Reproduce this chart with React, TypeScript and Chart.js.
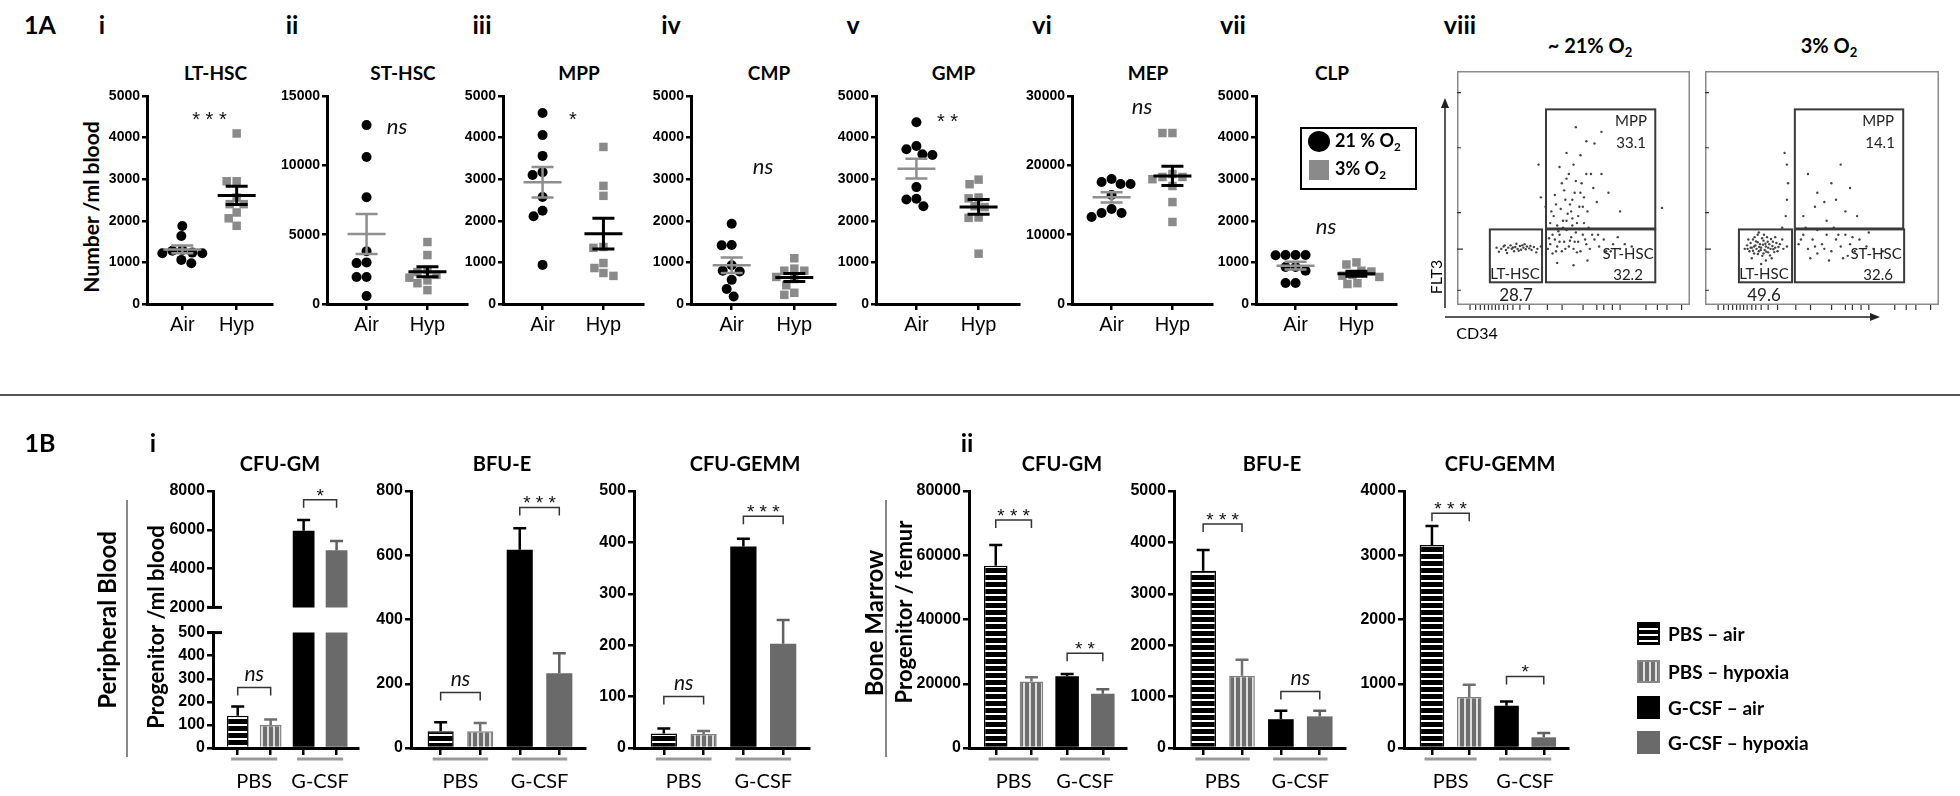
import React, { useEffect, useRef } from 'react';
import { Chart, registerables } from 'chart.js';
Chart.register(...registerables);

const TXT = "Lato, 'Noto Sans', sans-serif";
const NUM = "'Liberation Sans', Arial, sans-serif";

// ================= Fig 1A: number per ml blood =================
const groupLabels = ['Air', 'Hyp'];
const panelTitles = ['LT-HSC', 'ST-HSC', 'MPP', 'CMP', 'GMP', 'MEP', 'CLP'];
const panelNumerals = ['i', 'ii', 'iii', 'iv', 'v', 'vi', 'vii'];
const ltAir = [1875, 1635, 1300, 1280, 1235, 1220, 1220, 1060, 980];
const ltHyp = [4100, 2950, 2950, 2560, 2400, 2400, 2200, 2060, 1880];
const stAir = [12900, 10600, 7700, 3800, 3000, 2950, 1950, 1950, 580];
const stHyp = [4470, 3530, 2450, 2300, 2100, 1900, 1700, 1500, 1000];
const mppAir = [4590, 4060, 3560, 3170, 3100, 2570, 2240, 2110, 940];
const mppHyp = [3775, 2840, 2600, 1370, 1350, 985, 865, 745, 675];
const cmpAir = [1930, 1420, 1410, 930, 800, 780, 580, 360, 180];
const cmpHyp = [1100, 850, 800, 800, 650, 600, 450, 270, 220];
const gmpAir = [4370, 3800, 3720, 3600, 3580, 2810, 2530, 2510, 2350];
const gmpHyp = [2990, 2880, 2560, 2540, 2350, 2330, 2080, 2070, 1210];
const mepAir = [18030, 17600, 17300, 17300, 15720, 13700, 13125, 13125, 12550];
const mepHyp = [24660, 24660, 18750, 18320, 18320, 18000, 17020, 14700, 11830];
const clpAir = [1180, 1180, 1180, 1170, 890, 890, 800, 505, 505];
const clpHyp = [1000, 950, 800, 780, 700, 680, 650, 500, 480];
const axisMax = [5000, 15000, 5000, 5000, 5000, 30000, 5000];
const axisStep = [1000, 5000, 1000, 1000, 1000, 10000, 1000];
const sigLabels = ['***', 'ns', '*', 'ns', '**', 'ns', 'ns'];
const sigAt = [4550, 12700, 4550, 3270, 4500, 28300, 1830];
const topAir = [ltAir, stAir, mppAir, cmpAir, gmpAir, mepAir, clpAir];
const topHyp = [ltHyp, stHyp, mppHyp, cmpHyp, gmpHyp, mepHyp, clpHyp];

// flow cytometry (viii): FLT3 vs CD34, plot units 0-1000
const gateNames = ['LT-HSC', 'ST-HSC', 'MPP'];
const gatePct21 = ['28.7', '32.2', '33.1'];
const gatePct3 = ['49.6', '32.6', '14.1'];
const gates21 = [[141, 97, 365, 323], [382, 97, 851, 323], [382, 327, 851, 836]];
const gates3 = [[145, 97, 372, 323], [384, 97, 851, 323], [384, 327, 847, 836]];
const cells21: number[][] = [
  [170, 245], [190, 240], [200, 250], [210, 235], [220, 245], [230, 255], [235, 240], [245, 230], [250, 248], [260, 240],
  [270, 252], [275, 236], [285, 245], [295, 238], [300, 250], [310, 242], [320, 235], [330, 248], [345, 240], [360, 250],
  [180, 228], [255, 262], [215, 222], [290, 260], [340, 225], [205, 255], [240, 246], [265, 232], [280, 255], [315, 252],
  [390, 240], [400, 260], [410, 220], [420, 280], [430, 250], [440, 300], [450, 230], [460, 270], [470, 320], [480, 250],
  [490, 290], [500, 240], [510, 310], [520, 270], [530, 230], [540, 300], [555, 260], [570, 240], [590, 280], [610, 250],
  [640, 230], [670, 260], [700, 240], [400, 350], [415, 380], [430, 340], [445, 410], [455, 360], [465, 450], [475, 390],
  [485, 430], [495, 370], [505, 480], [515, 350], [525, 420], [535, 520], [545, 460], [560, 400], [575, 560], [585, 500],
  [600, 440], [420, 470], [450, 520], [480, 560], [500, 600], [530, 640], [555, 700], [590, 690], [620, 740], [510, 760],
  [470, 650], [440, 590], [620, 560], [650, 480], [700, 400], [380, 420], [360, 460], [350, 600], [880, 415], [430, 180],
  [500, 170], [560, 190], [410, 300], [455, 330], [495, 340], [520, 380], [470, 360], [440, 270], [505, 270], [545, 350],
  [395, 285], [425, 230], [435, 315], [465, 240], [485, 275], [515, 225], [525, 325], [550, 280], [565, 330], [580, 300],
  [405, 400], [425, 430], [460, 490], [490, 400], [510, 530], [540, 420], [555, 560], [470, 540], [495, 450], [530, 480],
  [605, 300], [630, 280], [660, 230], [690, 290], [720, 260], [750, 250],
];
const cells3: number[][] = [
  [170, 240], [180, 255], [190, 230], [195, 265], [200, 245], [205, 280], [210, 220], [215, 255], [220, 240], [225, 300],
  [230, 230], [235, 260], [240, 245], [245, 210], [250, 275], [255, 235], [260, 250], [265, 290], [270, 225], [275, 260],
  [280, 240], [285, 200], [290, 270], [300, 245], [310, 230], [320, 260], [335, 240], [350, 250], [200, 200], [230, 310],
  [260, 190], [300, 290], [185, 280], [240, 175], [330, 280], [210, 250], [250, 220], [225, 268], [270, 245], [195, 245],
  [205, 232], [218, 272], [232, 248], [244, 285], [258, 262], [262, 228], [278, 212], [288, 252], [296, 226], [305, 265],
  [182, 240], [226, 218], [248, 258], [268, 270], [292, 238], [314, 248], [238, 235], [252, 300], [212, 290], [282, 282],
  [400, 260], [420, 300], [440, 240], [460, 280], [480, 320], [500, 260], [520, 300], [540, 230], [560, 280], [580, 250],
  [600, 300], [620, 260], [640, 230], [660, 280], [690, 250], [720, 240], [760, 230], [450, 200], [530, 190], [610, 210],
  [430, 330], [550, 330], [480, 220], [700, 310], [590, 200], [410, 280], [470, 250], [510, 240], [570, 300], [630, 290],
  [420, 380], [470, 420], [520, 360], [560, 450], [600, 400], [480, 480], [540, 520], [620, 500], [650, 380], [580, 600],
  [510, 440], [440, 560], [345, 380], [350, 450], [355, 520], [350, 600], [340, 650], [330, 330],
];
const flowYTicks = [63, 239, 395, 672, 908];
const flowXTicks = [56, 80, 100, 118, 135, 150, 165, 180, 200, 217, 240, 270, 310, 388, 451, 541, 600, 630, 667, 700, 811, 860, 901, 964];

// ================= Fig 1B: colony-forming progenitors =================
const barGroups = ['PBS', 'G-CSF'];
const barSeries = ['PBS – air', 'PBS – hypoxia', 'G-CSF – air', 'G-CSF – hypoxia'];
const pbCfuGm = [140, 100, 5950, 4950];
const pbCfuGmSem = [40, 23, 550, 470];
const pbCfuGmSig: [string, number][] = [['ns', 262], ['*', 7550]];
const pbBfuE = [52, 52, 617, 233];
const pbBfuESem = [28, 26, 67, 62];
const pbBfuESig: [string, number][] = [['ns', 173], ['***', 749]];
const pbCfuGemm = [28, 27, 392, 203];
const pbCfuGemmSem = [10, 6, 15, 46];
const pbCfuGemmSig: [string, number][] = [['ns', 100], ['***', 451]];
const bmCfuGm = [56700, 20700, 22300, 16900];
const bmCfuGmSem = [6500, 1300, 700, 1400];
const bmCfuGmSig: [string, number][] = [['***', 71000], ['**', 29500]];
const bmBfuE = [3450, 1405, 560, 615];
const bmBfuESem = [400, 310, 165, 110];
const bmBfuESig: [string, number][] = [['***', 4360], ['ns', 1100]];
const bmCfuGemm = [3160, 793, 658, 166];
const bmCfuGemmSem = [296, 190, 67, 67];
const bmCfuGemmSig: [string, number][] = [['***', 3653], ['*', 1114]];

// ================= layout =================
const TOP_Y = 96, TOP_B = 304;
const topAxisX = [147, 327, 503, 691, 876, 1072, 1256];
const topPlotW = [125, 140, 140, 144, 143, 140, 140];
const numeralX = [102, 292, 482, 671, 853, 1042, 1233];
const Y_W = 60, PAD_T = 24, X_H = 42, PAD_R = 12;
const flowBox = [[1453, 67, 241, 238], [1701, 67, 242, 238]];
const flowLabelPos = [
  [[249, 130, 253, 42], [734, 218, 734, 126], [747, 786, 747, 693]],
  [[252, 130, 252, 42], [731, 218, 740, 126], [740, 786, 748, 693]],
];
const BAR_T = 491, BAR_B = 748, BY_W = 70;

const axisBorder = { display: true, color: '#000', width: 3 };
const tickGrid = (len: number) => ({ display: true, drawOnChartArea: false, drawTicks: true, tickLength: len, color: '#000', lineWidth: 2.5, offset: false });
const plainNum = (v: any) => String(v);

function swarm(values: number[], center: number, pxPerX: number, pxPerV: number, d: number) {
  const order = values.map((_, i) => i).sort((a, b) => values[b] - values[a]);
  const placed: { x: number; y: number }[] = [];
  const out: { x: number; y: number }[] = new Array(values.length);
  for (const i of order) {
    const py = values[i] * pxPerV;
    let off = 0;
    for (let k = 0; k < 400; k++) {
      const cand = k === 0 ? 0 : (k % 2 ? -1 : 1) * Math.ceil(k / 2);
      if (placed.every(p => Math.hypot(p.x - cand, p.y - py) >= d)) { off = cand; break; }
    }
    placed.push({ x: off, y: py });
    out[i] = { x: center + off / pxPerX, y: values[i] };
  }
  return out;
}

function meanSem(a: number[]) {
  const m = a.reduce((s, v) => s + v, 0) / a.length;
  const sd = Math.sqrt(a.reduce((s, v) => s + (v - m) ** 2, 0) / (a.length - 1));
  return [m, sd / Math.sqrt(a.length)];
}

function drawSig(ctx: CanvasRenderingContext2D, lab: string, cx: number, cy: number, size: number) {
  ctx.fillStyle = '#111';
  ctx.textAlign = 'center';
  ctx.textBaseline = 'alphabetic';
  if (lab === 'ns') {
    ctx.font = `italic ${size + 2}px ${TXT}`;
    ctx.fillText(lab, cx, cy + (size + 2) * 0.26);
  } else {
    ctx.font = `${size}px ${NUM}`;
    ctx.fillText(lab.split('').join(' '), cx, cy + size * 0.58);
  }
}

function buildTop(canvas: HTMLCanvasElement, k: number) {
  const plotH = TOP_B - TOP_Y;
  const w = topPlotW[k];
  const pxX = w / 2.3, pxV = plotH / axisMax[k];
  const air = swarm(topAir[k], 1, pxX, pxV, 10);
  const hyp = swarm(topHyp[k], 2, pxX, pxV, 9.5);
  const groups: [number[], number, string, number][] = [[topAir[k], 1, '#8f8f8f', 2.5], [topHyp[k], 2, '#000', 3]];
  const plugin = {
    id: 'meanSem' + k,
    afterDatasetsDraw(chart: any) {
      const { ctx, scales: { x, y } } = chart;
      ctx.save();
      for (const [vals, c, col, lw] of groups) {
        const [m, se] = meanSem(vals);
        const cx = x.getPixelForValue(c);
        const ym = y.getPixelForValue(m), yh = y.getPixelForValue(m + se), yl = y.getPixelForValue(m - se);
        ctx.strokeStyle = col; ctx.lineWidth = lw;
        ctx.beginPath();
        ctx.moveTo(cx - 19, ym); ctx.lineTo(cx + 19, ym);
        ctx.moveTo(cx, yl); ctx.lineTo(cx, yh);
        ctx.moveTo(cx - 11, yh); ctx.lineTo(cx + 11, yh);
        ctx.moveTo(cx - 11, yl); ctx.lineTo(cx + 11, yl);
        ctx.stroke();
      }
      drawSig(ctx, sigLabels[k], x.getPixelForValue(1.5), y.getPixelForValue(sigAt[k]), 20);
      ctx.restore();
    },
  };
  return new Chart(canvas, {
    type: 'scatter',
    data: {
      datasets: [
        { data: air, pointStyle: 'circle', pointRadius: 5, backgroundColor: '#000', borderWidth: 0 },
        { data: hyp, pointStyle: 'rect', pointRadius: 6, backgroundColor: '#8a8a8a', borderWidth: 0 },
      ],
    },
    options: {
      responsive: false, animation: false, devicePixelRatio: 1,
      layout: { padding: { top: PAD_T, right: PAD_R, left: 0, bottom: 0 } },
      plugins: { legend: { display: false }, tooltip: { enabled: false } },
      scales: {
        x: {
          type: 'linear', min: 0.35, max: 2.65,
          afterBuildTicks: (s: any) => { s.ticks = [{ value: 1 }, { value: 2 }]; },
          ticks: { callback: (_v: any, i: number) => groupLabels[i], font: { family: NUM, size: 20 }, color: '#000', padding: 3, autoSkip: false, maxRotation: 0 },
          grid: tickGrid(6), border: axisBorder,
          afterFit: (s: any) => { s.height = X_H; },
        },
        y: {
          min: 0, max: axisMax[k],
          ticks: { stepSize: axisStep[k], callback: plainNum, font: { family: NUM, size: 14, weight: 'bold' }, color: '#000', padding: 2 },
          grid: tickGrid(5), border: axisBorder,
          afterFit: (s: any) => { s.width = Y_W; },
        },
      },
    } as any,
    plugins: [plugin],
  });
}

function buildFlow(canvas: HTMLCanvasElement, p: number) {
  const cells = p === 0 ? cells21 : cells3;
  const gates = p === 0 ? gates21 : gates3;
  const pcts = p === 0 ? gatePct21 : gatePct3;
  const plugin = {
    id: 'flow' + p,
    afterDatasetsDraw(chart: any) {
      const { ctx, chartArea: a, scales: { x, y } } = chart;
      ctx.save();
      ctx.strokeStyle = '#8a8a8a'; ctx.lineWidth = 1.5;
      ctx.strokeRect(a.left + 0.75, a.top + 0.75, a.right - a.left - 1.5, a.bottom - a.top - 1.5);
      ctx.strokeStyle = '#333'; ctx.lineWidth = 1.2;
      ctx.beginPath();
      flowYTicks.forEach((v, i) => { const py = y.getPixelForValue(v); ctx.moveTo(a.left, py); ctx.lineTo(a.left + (i === 1 ? 6 : 4), py); });
      flowXTicks.forEach(v => { const px = x.getPixelForValue(v); ctx.moveTo(px, a.bottom); ctx.lineTo(px, a.bottom + 5); });
      ctx.stroke();
      ctx.strokeStyle = '#3a3a3a'; ctx.lineWidth = 2;
      gates.forEach(g => {
        const x1 = x.getPixelForValue(g[0]), x2 = x.getPixelForValue(g[2]);
        const y1 = y.getPixelForValue(g[1]), y2 = y.getPixelForValue(g[3]);
        ctx.strokeRect(x1, y2, x2 - x1, y1 - y2);
      });
      ctx.fillStyle = '#222'; ctx.textAlign = 'center'; ctx.textBaseline = 'middle';
      gates.forEach((_g, i) => {
        const [nx, ny, vx, vy] = flowLabelPos[p][i];
        ctx.font = `15px ${TXT}`;
        ctx.fillText(gateNames[i], x.getPixelForValue(nx), y.getPixelForValue(ny));
        ctx.font = `${i === 0 ? 17 : 15}px ${TXT}`;
        ctx.fillText(pcts[i], x.getPixelForValue(vx), y.getPixelForValue(vy));
      });
      ctx.restore();
    },
  };
  return new Chart(canvas, {
    type: 'scatter',
    data: { datasets: [{ data: cells.map(c => ({ x: c[0], y: c[1] })), pointRadius: 1.2, backgroundColor: '#444', borderWidth: 0 }] },
    options: {
      responsive: false, animation: false, devicePixelRatio: 1,
      layout: { padding: { top: 0, right: 0, left: 0, bottom: 10 } },
      plugins: { legend: { display: false }, tooltip: { enabled: false } },
      scales: { x: { display: false, min: 0, max: 1000 }, y: { display: false, min: 0, max: 1000 } },
    } as any,
    plugins: [plugin],
  });
}

type Seg = { min: number; max: number; step: number; showX: boolean; brk?: 'min' | 'max' };

function stripePattern(ctx: CanvasRenderingContext2D, horizontal: boolean, fg: string, bg: string, period: number, fgSize: number) {
  const c = document.createElement('canvas');
  c.width = horizontal ? 4 : period; c.height = horizontal ? period : 4;
  const g = c.getContext('2d')!;
  g.fillStyle = bg; g.fillRect(0, 0, c.width, c.height);
  g.fillStyle = fg;
  if (horizontal) g.fillRect(0, 0, 4, fgSize); else g.fillRect(0, 0, fgSize, 4);
  return ctx.createPattern(c, 'repeat')!;
}

function buildBars(canvas: HTMLCanvasElement, vals: number[], sems: number[], sig: [string, number][], seg: Seg, padT: number, padB: number) {
  const ctx0 = canvas.getContext('2d')!;
  const fills = [stripePattern(ctx0, true, '#000', '#fff', 7, 5), stripePattern(ctx0, false, '#6e6e6e', '#dedede', 6, 4), '#000', '#6a6a6a'];
  const errCols = ['#000', '#707070', '#000', '#606060'];
  const plugin = {
    id: 'barDeco',
    afterDatasetsDraw(chart: any) {
      const { ctx, chartArea: a, scales: { x, y } } = chart;
      ctx.save();
      ctx.lineWidth = 2.5;
      vals.forEach((v, i) => {
        if (v < seg.min || v > seg.max) return;
        const cx = x.getPixelForValue(i + 1), y0 = y.getPixelForValue(v), y1 = y.getPixelForValue(v + sems[i]);
        ctx.strokeStyle = errCols[i];
        ctx.beginPath(); ctx.moveTo(cx, y0); ctx.lineTo(cx, y1); ctx.moveTo(cx - 6.5, y1); ctx.lineTo(cx + 6.5, y1); ctx.stroke();
      });
      if (seg.brk) {
        const by = seg.brk === 'min' ? a.bottom : a.top;
        ctx.strokeStyle = '#000'; ctx.lineWidth = 3;
        ctx.beginPath(); ctx.moveTo(a.left - 6, by); ctx.lineTo(a.left + 9, by); ctx.stroke();
      }
      sig.forEach(([lab, yv], p) => {
        if (yv < seg.min || yv > seg.max) return;
        const x1 = x.getPixelForValue(1 + 2 * p), x2 = x.getPixelForValue(2 + 2 * p), py = y.getPixelForValue(yv);
        ctx.strokeStyle = '#333'; ctx.lineWidth = 1.5;
        ctx.beginPath(); ctx.moveTo(x1, py + 8); ctx.lineTo(x1, py); ctx.lineTo(x2, py); ctx.lineTo(x2, py + 8); ctx.stroke();
        drawSig(ctx, lab, (x1 + x2) / 2, py - (lab === 'ns' ? 12 : 9), 19);
      });
      if (seg.showX) {
        ctx.strokeStyle = '#9a9a9a'; ctx.lineWidth = 3;
        const ly = a.bottom + 11;
        ctx.beginPath();
        [0, 1].forEach(g => { ctx.moveTo(x.getPixelForValue(0.8 + 2 * g), ly); ctx.lineTo(x.getPixelForValue(2.2 + 2 * g), ly); });
        ctx.stroke();
        ctx.fillStyle = '#000'; ctx.font = `20px ${TXT}`; ctx.textAlign = 'center'; ctx.textBaseline = 'middle';
        barGroups.forEach((g, i) => ctx.fillText(g, x.getPixelForValue(1.5 + 2 * i), a.bottom + 34));
      }
      ctx.restore();
    },
  };
  return new Chart(canvas, {
    type: 'bar',
    data: {
      datasets: [{
        label: 'bars',
        data: vals.map((v, i) => ({ x: i + 1, y: v })),
        backgroundColor: fills as any,
        borderColor: ['#000', '#808080', '#000', '#6a6a6a'],
        borderWidth: [1.5, 1.5, 0, 0],
        borderSkipped: 'start',
        barPercentage: 0.66, categoryPercentage: 1,
        clip: 0,
      }],
    },
    options: {
      responsive: false, animation: false, devicePixelRatio: 1,
      layout: { padding: { top: padT, right: 14, left: 0, bottom: seg.showX ? 0 : padB } },
      plugins: { legend: { display: false }, tooltip: { enabled: false } },
      scales: {
        x: {
          type: 'linear', display: seg.showX, min: 0.25, max: 4.65, offset: false,
          afterBuildTicks: (s: any) => { s.ticks = [1, 2, 3, 4].map(v => ({ value: v })); },
          ticks: { callback: () => '', autoSkip: false, maxRotation: 0, padding: 0 },
          grid: tickGrid(7), border: axisBorder,
          afterFit: (s: any) => { s.height = seg.showX ? 48 : 0; },
        },
        y: {
          min: seg.min, max: seg.max,
          ticks: { stepSize: seg.step, callback: plainNum, font: { family: NUM, size: 16, weight: 'bold' }, color: '#000', padding: 2 },
          grid: tickGrid(6), border: axisBorder,
          afterFit: (s: any) => { s.width = BY_W; },
        },
      },
    } as any,
    plugins: [plugin],
  });
}

function Box({ left, top, width, height, make }: { left: number; top: number; width: number; height: number; make: (c: HTMLCanvasElement) => Chart }) {
  const ref = useRef<HTMLCanvasElement>(null);
  useEffect(() => {
    const ch = make(ref.current!);
    return () => ch.destroy();
  }, []);
  return <canvas ref={ref} width={width} height={height} style={{ position: 'absolute', left, top, width, height }} />;
}

function T({ x, y, children, size = 20, bold = false, italic = false, rot = false, left = false }: any) {
  return (
    <div style={{
      position: 'absolute', left: x, top: y, whiteSpace: 'nowrap', lineHeight: 1, color: '#000',
      fontFamily: TXT, fontSize: size, fontWeight: bold ? 700 : 400, fontStyle: italic ? 'italic' : 'normal',
      transform: `translate(${left ? '0' : '-50%'},-50%)${rot ? ' rotate(-90deg)' : ''}`,
    }}>{children}</div>
  );
}

const O2 = (t: string) => <span>{t}O<sub style={{ fontSize: '0.65em', verticalAlign: '-0.3em' }}>2</sub></span>;

type BarPanel = { title: string; axisX: number; w: number; titleX: number; vals: number[]; sems: number[]; sig: [string, number][]; max: number; step: number };
const barPanels: BarPanel[] = [
  { title: 'BFU-E', axisX: 411, w: 174, titleX: 502, vals: pbBfuE, sems: pbBfuESem, sig: pbBfuESig, max: 800, step: 200 },
  { title: 'CFU-GEMM', axisX: 634, w: 175, titleX: 745, vals: pbCfuGemm, sems: pbCfuGemmSem, sig: pbCfuGemmSig, max: 500, step: 100 },
  { title: 'CFU-GM', axisX: 969, w: 157, titleX: 1062, vals: bmCfuGm, sems: bmCfuGmSem, sig: bmCfuGmSig, max: 80000, step: 20000 },
  { title: 'BFU-E', axisX: 1174, w: 171, titleX: 1272, vals: bmBfuE, sems: bmBfuESem, sig: bmBfuESig, max: 5000, step: 1000 },
  { title: 'CFU-GEMM', axisX: 1404, w: 164, titleX: 1500, vals: bmCfuGemm, sems: bmCfuGemmSem, sig: bmCfuGemmSig, max: 4000, step: 1000 },
];

export default function App() {
  const legendPatches = [
    { background: 'repeating-linear-gradient(to bottom, #000 0 4px, #fff 4px 6px)', border: '2px solid #000' },
    { background: 'repeating-linear-gradient(to right, #707070 0 4px, #e2e2e2 4px 6px)', border: '2px solid #888' },
    { background: '#000', border: '2px solid #000' },
    { background: '#6a6a6a', border: '2px solid #6a6a6a' },
  ];
  const legendY = [633, 671, 707, 742];
  return (
    <div style={{ position: 'absolute', left: 0, top: 0, width: 1960, height: 796, background: '#fff', overflow: 'hidden' }}>
      {/* ---------- 1A ---------- */}
      <T x={40} y={24} size={25} bold>1A</T>
      {panelNumerals.map((n, k) => <T key={n} x={numeralX[k]} y={24} size={25} bold>{n}</T>)}
      <T x={1460} y={24} size={25} bold>viii</T>
      {panelTitles.map((t, k) => <T key={t} x={topAxisX[k] + topPlotW[k] / 2 + 6} y={72} size={19} bold>{t}</T>)}
      <T x={90} y={207} size={21} bold rot>Number /ml blood</T>
      {panelTitles.map((t, k) => (
        <Box key={'top' + t} left={topAxisX[k] - Y_W} top={TOP_Y - PAD_T} width={Y_W + topPlotW[k] + PAD_R} height={PAD_T + (TOP_B - TOP_Y) + X_H} make={c => buildTop(c, k)} />
      ))}
      {/* legend 1A */}
      <div style={{ position: 'absolute', left: 1300, top: 127, width: 113, height: 59, border: '2px solid #000' }} />
      <div style={{ position: 'absolute', left: 1308, top: 131, width: 22, height: 21, borderRadius: '50%', background: '#000' }} />
      <div style={{ position: 'absolute', left: 1309, top: 160, width: 20, height: 20, background: '#8a8a8a' }} />
      <T x={1335} y={142} size={18} bold left>{O2('21 % ')}</T>
      <T x={1335} y={170} size={18} bold left>{O2('3% ')}</T>
      {/* flow plots */}
      <T x={1590} y={47} size={20} bold>{O2('~ 21% ')}</T>
      <T x={1829} y={47} size={20} bold>{O2('3% ')}</T>
      {flowBox.map((b, p) => (
        <Box key={'flow' + p} left={b[0]} top={b[1]} width={b[2]} height={b[3] + 10} make={c => buildFlow(c, p)} />
      ))}
      <svg width={1960} height={796} style={{ position: 'absolute', left: 0, top: 0, pointerEvents: 'none' }}>
        <line x1={1445} y1={308} x2={1445} y2={106} stroke="#222" strokeWidth={1.5} />
        <polygon points="1445,98 1441,108 1449,108" fill="#222" />
        <line x1={1445} y1={317} x2={1872} y2={317} stroke="#222" strokeWidth={1.5} />
        <polygon points="1880,317 1870,313 1870,321" fill="#222" />
      </svg>
      <T x={1436} y={277} size={16} rot>FLT3</T>
      <T x={1477} y={333} size={16}>CD34</T>

      <div style={{ position: 'absolute', left: 0, top: 394, width: 1960, height: 2, background: '#555' }} />

      {/* ---------- 1B ---------- */}
      <T x={40} y={442} size={25} bold>1B</T>
      <T x={153} y={442} size={25} bold>i</T>
      <T x={967} y={442} size={25} bold>ii</T>
      <T x={107} y={620} size={24} bold rot>Peripheral Blood</T>
      <div style={{ position: 'absolute', left: 126, top: 500, width: 2, height: 257, background: '#888' }} />
      <T x={156} y={627} size={22} bold rot>Progenitor /ml blood</T>
      <T x={874} y={623} size={24} bold rot>Bone Marrow</T>
      <div style={{ position: 'absolute', left: 885, top: 500, width: 2, height: 257, background: '#888' }} />
      <T x={904} y={612} size={22} bold rot>Progenitor / femur</T>

      {/* PB CFU-GM with broken axis */}
      <T x={280} y={463} size={20} bold>CFU-GM</T>
      <Box left={213 - BY_W} top={BAR_T - 28} width={BY_W + 145 + 14} height={28 + 118 + 10}
        make={c => buildBars(c, pbCfuGm, pbCfuGmSem, pbCfuGmSig, { min: 2000, max: 8000, step: 2000, showX: false, brk: 'min' }, 28, 10)} />
      <Box left={213 - BY_W} top={631 - 10} width={BY_W + 145 + 14} height={10 + 117 + 48}
        make={c => buildBars(c, pbCfuGm, pbCfuGmSem, pbCfuGmSig, { min: 0, max: 500, step: 100, showX: true, brk: 'max' }, 10, 0)} />
      {barPanels.map((bp, i) => (
        <React.Fragment key={'bp' + i}>
          <T x={bp.titleX} y={463} size={20} bold>{bp.title}</T>
          <Box left={bp.axisX - BY_W} top={BAR_T - 28} width={BY_W + bp.w + 14} height={28 + (BAR_B - BAR_T) + 48}
            make={c => buildBars(c, bp.vals, bp.sems, bp.sig, { min: 0, max: bp.max, step: bp.step, showX: true }, 28, 0)} />
        </React.Fragment>
      ))}
      {/* legend 1B */}
      {barSeries.map((s, i) => (
        <React.Fragment key={s}>
          <div style={{ position: 'absolute', left: 1637, top: legendY[i] - 11, width: 19, height: 19, boxSizing: 'content-box', ...legendPatches[i] }} />
          <T x={1668} y={legendY[i]} size={19} bold left>{s}</T>
        </React.Fragment>
      ))}
    </div>
  );
}
